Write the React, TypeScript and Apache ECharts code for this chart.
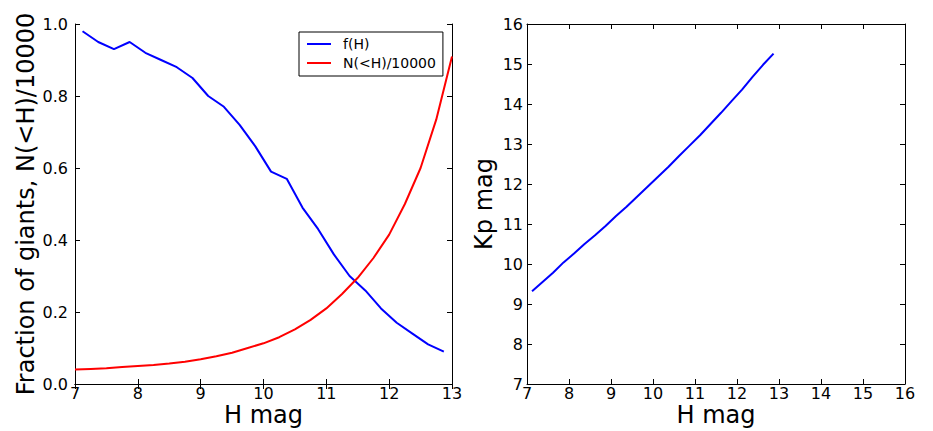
import React, { useEffect, useRef } from "react";
import * as echarts from "echarts";

const hBlue = [7.12, 7.37, 7.62, 7.87, 8.12, 8.37, 8.62, 8.87, 9.12, 9.37, 9.62, 9.87, 10.12, 10.37, 10.62, 10.87, 11.12, 11.37, 11.62, 11.87, 12.12, 12.37, 12.62, 12.87];
const fH = [0.98, 0.95, 0.93, 0.95, 0.92, 0.9, 0.88, 0.85, 0.8, 0.77, 0.72, 0.66, 0.59, 0.57, 0.49, 0.43, 0.36, 0.3, 0.26, 0.21, 0.17, 0.14, 0.11, 0.09];
const hRed = [7.0, 7.25, 7.5, 7.75, 8.0, 8.25, 8.5, 8.75, 9.0, 9.25, 9.5, 9.75, 10.0, 10.25, 10.5, 10.75, 11.0, 11.25, 11.5, 11.75, 12.0, 12.25, 12.5, 12.75, 13.0];
const nH = [0.04, 0.042, 0.044, 0.047, 0.05, 0.053, 0.057, 0.062, 0.069, 0.077, 0.087, 0.1, 0.113, 0.13, 0.152, 0.178, 0.21, 0.25, 0.295, 0.35, 0.415, 0.5, 0.6, 0.735, 0.91];
const kp = [9.32, 9.55, 9.78, 10.04, 10.26, 10.5, 10.72, 10.95, 11.2, 11.43, 11.68, 11.93, 12.18, 12.43, 12.7, 12.96, 13.22, 13.5, 13.78, 14.07, 14.36, 14.68, 14.98, 15.26];

const FONT = "DejaVu Sans";

export default function App() {
  const ref = useRef<HTMLDivElement>(null);
  useEffect(() => {
    if (!ref.current) return;
    const chart = echarts.init(ref.current, undefined, { renderer: "svg" });
    const axisLine = { show: true, lineStyle: { color: "#000", width: 1 } };
    const tick = { show: true, inside: true, length: 5, lineStyle: { color: "#000" } };
    const lbl = { color: "#000", fontSize: 16, fontFamily: FONT, lineHeight: 12 };
    const xNameStyle = { fontSize: 24, fontFamily: FONT, color: "#000", lineHeight: 20 };
    const yNameStyle = { fontSize: 24, fontFamily: FONT, color: "#000", lineHeight: 22 };
    const blank = (gi: number, pos: string, min: number, max: number, interval: number) => ({
      type: "value",
      gridIndex: gi,
      position: pos,
      min,
      max,
      interval,
      axisLine,
      axisTick: tick,
      axisLabel: { show: false },
      splitLine: { show: false },
    });
    chart.setOption({
      animation: false,
      backgroundColor: "#fff",
      textStyle: { fontFamily: FONT },
      grid: [
        { left: 75, right: 481, top: 24, bottom: 47, containLabel: false, outerBoundsMode: "none" },
        { left: 527, right: 28, top: 24, bottom: 47, containLabel: false, outerBoundsMode: "none" },
      ],
      legend: {
        left: 299,
        top: 32,
        orient: "vertical",
        borderColor: "#000",
        borderWidth: 1,
        borderRadius: 0,
        padding: [5, 7, 6, 8],
        itemWidth: 24,
        itemHeight: 2,
        itemGap: 5,
        icon: "rect",
        textStyle: { fontSize: 14, fontFamily: FONT, color: "#000", lineHeight: 14, padding: [0, 0, 0, 7] },
        data: ["f(H)", "N(<H)/10000"],
      },
      xAxis: [
        {
          type: "value", gridIndex: 0, min: 7, max: 13, interval: 1,
          name: "H mag", nameLocation: "middle", nameGap: 21, nameMoveOverlap: false, nameTextStyle: xNameStyle,
          axisLine, axisTick: tick, axisLabel: { ...lbl, margin: 3 }, splitLine: { show: false },
        },
        {
          type: "value", gridIndex: 1, min: 7, max: 16, interval: 1,
          name: "H mag", nameLocation: "middle", nameGap: 21, nameMoveOverlap: false, nameTextStyle: xNameStyle,
          axisLine, axisTick: tick, axisLabel: { ...lbl, margin: 3 }, splitLine: { show: false },
        },
        blank(0, "top", 7, 13, 1),
        blank(1, "top", 7, 16, 1),
      ],
      yAxis: [
        {
          type: "value", gridIndex: 0, min: 0, max: 1, interval: 0.2,
          name: "Fraction of giants, N(<H)/10000", nameLocation: "middle", nameGap: 38, nameMoveOverlap: false, nameTextStyle: yNameStyle,
          axisLine, axisTick: tick,
          axisLabel: { ...lbl, margin: 7, formatter: (v: number) => v.toFixed(1) },
          splitLine: { show: false },
        },
        {
          type: "value", gridIndex: 1, min: 7, max: 16, interval: 1,
          name: "Kp mag", nameLocation: "middle", nameGap: 32, nameMoveOverlap: false, nameTextStyle: yNameStyle,
          axisLine, axisTick: tick, axisLabel: { ...lbl, margin: 4 }, splitLine: { show: false },
        },
        blank(0, "right", 0, 1, 0.2),
        blank(1, "right", 7, 16, 1),
      ],
      series: [
        {
          name: "f(H)", type: "line", xAxisIndex: 0, yAxisIndex: 0, symbol: "none",
          lineStyle: { color: "#0000ff", width: 2 }, itemStyle: { color: "#0000ff" },
          data: hBlue.map((h, i) => [h, fH[i]]),
        },
        {
          name: "N(<H)/10000", type: "line", xAxisIndex: 0, yAxisIndex: 0, symbol: "none",
          lineStyle: { color: "#ff0000", width: 2 }, itemStyle: { color: "#ff0000" },
          data: hRed.map((h, i) => [h, nH[i]]),
        },
        {
          name: "Kp", type: "line", xAxisIndex: 1, yAxisIndex: 1, symbol: "none",
          lineStyle: { color: "#0000ff", width: 2 }, itemStyle: { color: "#0000ff" },
          data: hBlue.map((h, i) => [h, kp[i]]),
        },
      ],
    });
    return () => chart.dispose();
  }, []);
  return <div ref={ref} style={{ position: "fixed", left: 0, top: 0, width: 933, height: 431 }} />;
}
